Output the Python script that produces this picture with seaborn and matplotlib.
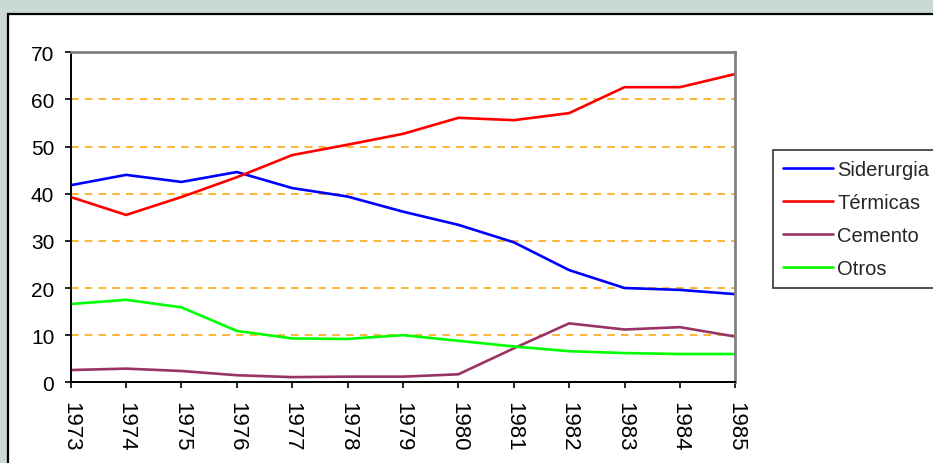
import pandas as pd
import matplotlib
matplotlib.use("Agg")
import matplotlib.pyplot as plt
import seaborn as sns
from matplotlib.patches import Rectangle

years = [1973, 1974, 1975, 1976, 1977, 1978, 1979, 1980, 1981, 1982, 1983, 1984, 1985]
siderurgia = [41.8, 44.0, 42.5, 44.6, 41.2, 39.4, 36.2, 33.4, 29.7, 23.8, 20.0, 19.6, 18.7]
termicas = [39.3, 35.5, 39.3, 43.5, 48.2, 50.4, 52.7, 56.1, 55.6, 57.1, 62.6, 62.6, 65.4]
cemento = [2.6, 2.9, 2.4, 1.5, 1.1, 1.2, 1.2, 1.7, 7.2, 12.5, 11.2, 11.7, 9.7]
otros = [16.6, 17.5, 15.9, 10.9, 9.3, 9.2, 10.0, 8.8, 7.6, 6.6, 6.2, 6.0, 6.0]

series = ["Siderurgia", "Térmicas", "Cemento", "Otros"]
colors = ["#0000ff", "#ff0000", "#993366", "#00ff00"]


def main():
    df = pd.DataFrame({"year": years, "Siderurgia": siderurgia, "Térmicas": termicas,
                       "Cemento": cemento, "Otros": otros})
    long = df.melt(id_vars="year", var_name="serie", value_name="valor")

    sns.set_style("white")
    plt.rcParams["font.family"] = ["Liberation Sans", "DejaVu Sans"]

    fig = plt.figure(figsize=(9.33, 4.64), dpi=100)
    fig.patch.set_facecolor("#cbd9d3")
    # white chart panel with black border
    fig.patches.append(Rectangle((8 / 933, -0.1), 1.2, 1 - 15 / 464 + 0.1,
                                 transform=fig.transFigure, facecolor="white",
                                 edgecolor="black", linewidth=1.6, zorder=-10))

    ax = fig.add_axes([70.7 / 933, 80.7 / 464, 664.6 / 933, 330 / 464])
    ax.set_facecolor("white")
    sns.lineplot(data=long, x="year", y="valor", hue="serie", hue_order=series,
                 palette=colors, linewidth=1.9, ax=ax, legend=True)

    ax.set_xlim(1973, 1985)
    ax.set_ylim(0, 70)
    ax.set_xticks(years)
    ax.set_xticklabels([str(y) for y in years], rotation=-90)
    ax.set_yticks(range(0, 71, 10))
    ax.set_yticklabels([str(v) for v in range(0, 71, 10)])
    for v in range(10, 70, 10):
        ax.axhline(v, color="#ffa000", linestyle=(0, (5, 4)), linewidth=1.1, zorder=0)

    ax.set_xlabel("")
    ax.set_ylabel("")
    ax.tick_params(axis="both", direction="out", length=4.3, width=1.2, color="black",
                   bottom=True, left=True, labelcolor="black")
    ax.tick_params(axis="x", pad=9, labelsize=16)
    ax.tick_params(axis="y", pad=7.5, labelsize=15)
    ax.spines["left"].set_color("black")
    ax.spines["bottom"].set_color("black")
    ax.spines["left"].set_linewidth(1.4)
    ax.spines["bottom"].set_linewidth(1.4)
    ax.spines["top"].set_color("#808080")
    ax.spines["right"].set_color("#808080")
    ax.spines["top"].set_linewidth(2)
    ax.spines["right"].set_linewidth(2)

    handles, labels = ax.get_legend_handles_labels()
    leg = ax.legend(handles, labels, loc="upper left",
                    bbox_to_anchor=(773 / 933, 1 - 151 / 464),
                    bbox_transform=fig.transFigure, borderaxespad=0,
                    fontsize=14.5, frameon=True, fancybox=False,
                    handlelength=2.5, handletextpad=0.2, labelspacing=0.7,
                    borderpad=0.5)
    leg.get_frame().set_edgecolor("black")
    leg.get_frame().set_linewidth(1.2)
    for line in leg.get_lines():
        line.set_linewidth(1.9)

    fig.savefig("out.png", dpi=100, facecolor=fig.get_facecolor())


if __name__ == "__main__":
    main()
